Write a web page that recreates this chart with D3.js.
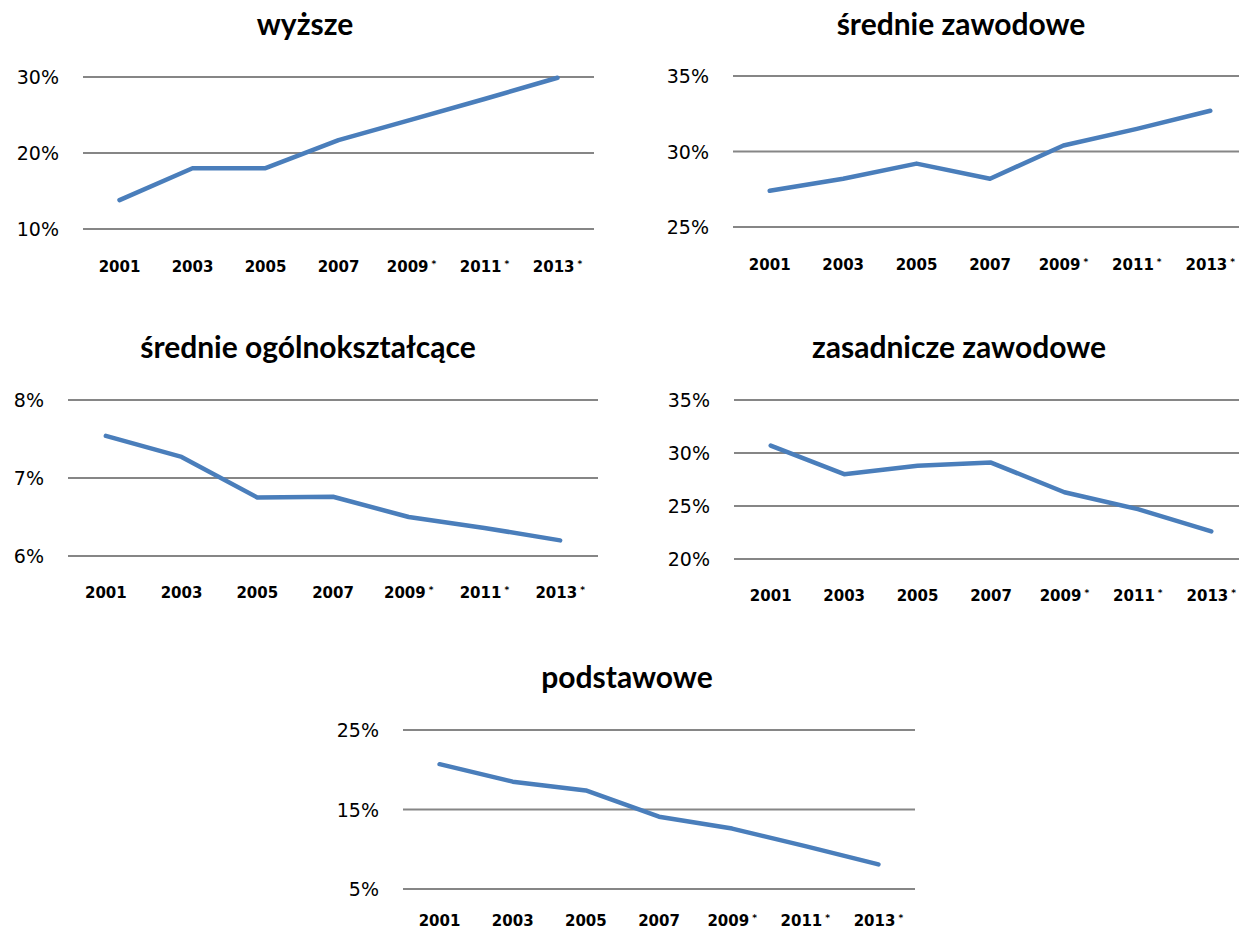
<!DOCTYPE html>
<html>
<head>
<meta charset="utf-8">
<script src="https://cdn.jsdelivr.net/npm/d3@7"></script>
<style>
  html, body { margin: 0; padding: 0; background: #fff; }
  svg { display: block; }
  .title { font-family: Lato, "Open Sans", sans-serif; font-weight: 700; font-size: 30px; fill: #000; }
  .ylab { font-family: "DejaVu Sans", sans-serif; font-size: 19px; fill: #000; }
  .xlab { font-family: "DejaVu Sans", sans-serif; font-weight: 700; font-size: 15px; fill: #000; }
</style>
</head>
<body>
<svg id="chart" width="1239" height="932"></svg>
<script>
// Years on the horizontal axis (starred years are estimates)
const years = ["2001", "2003", "2005", "2007", "2009*", "2011*", "2013*"];

// Share of each education level, in percent
const wyzsze = [13.8, 18.0, 18.0, 21.7, 24.4, 27.1, 29.9];
const srednieZawodowe = [27.4, 28.2, 29.2, 28.2, 30.4, 31.5, 32.7];
const srednieOgolnoksztalcace = [7.54, 7.27, 6.75, 6.76, 6.50, 6.36, 6.20];
const zasadniczeZawodowe = [30.7, 28.0, 28.8, 29.1, 26.3, 24.7, 22.6];
const podstawowe = [20.7, 18.5, 17.4, 14.1, 12.6, 10.4, 8.1];

// Panel titles
const titles = ["wyższe", "średnie zawodowe", "średnie ogólnokształcące", "zasadnicze zawodowe", "podstawowe"];

// Y tick values per panel (percent)
const ticksWyzsze = [10, 20, 30];
const ticksSrednieZawodowe = [25, 30, 35];
const ticksSrednieOgolno = [6, 7, 8];
const ticksZasadnicze = [20, 25, 30, 35];
const ticksPodstawowe = [5, 15, 25];

const series = [wyzsze, srednieZawodowe, srednieOgolnoksztalcace, zasadniczeZawodowe, podstawowe];
const tickSets = [ticksWyzsze, ticksSrednieZawodowe, ticksSrednieOgolno, ticksZasadnicze, ticksPodstawowe];

// Panel geometry: plot box, year-label offset and title anchor
const layout = [
  { x0: 83,  x1: 594,  yTop: 77,  yBot: 229, xlabDy: 43, titleX: 305, titleY: 35 },
  { x0: 733, x1: 1247, yTop: 76,  yBot: 227, xlabDy: 43, titleX: 961, titleY: 35 },
  { x0: 68,  x1: 598,  yTop: 400, yBot: 556, xlabDy: 42, titleX: 308, titleY: 358 },
  { x0: 734, x1: 1248, yTop: 400, yBot: 559, xlabDy: 42, titleX: 959, titleY: 358 },
  { x0: 403, x1: 915,  yTop: 730, yBot: 889, xlabDy: 37, titleX: 627, titleY: 688 }
];

const svg = d3.select("#chart");

series.forEach((values, i) => {
  const L = layout[i];
  const ticks = tickSets[i];
  const g = svg.append("g");

  const x = d3.scalePoint().domain(years).range([L.x0, L.x1]).padding(0.5);
  const y = d3.scaleLinear().domain(d3.extent(ticks)).range([L.yBot, L.yTop]);

  // horizontal gridlines
  g.selectAll("line.grid").data(ticks).join("line")
    .attr("class", "grid")
    .attr("x1", L.x0).attr("x2", L.x1)
    .attr("y1", d => y(d)).attr("y2", d => y(d))
    .attr("stroke", "#868686").attr("stroke-width", 2);

  // y tick labels
  g.selectAll("text.ylab").data(ticks).join("text")
    .attr("class", "ylab")
    .attr("x", L.x0 - 24)
    .attr("y", d => y(d) + 7)
    .attr("text-anchor", "end")
    .text(d => d + "%");

  // x tick labels, with the star set small and raised
  const xl = g.selectAll("text.xlab").data(years).join("text")
    .attr("class", "xlab")
    .attr("x", d => x(d))
    .attr("y", L.yBot + L.xlabDy)
    .attr("text-anchor", "middle");
  xl.append("tspan").text(d => d.replace("*", ""));
  xl.filter(d => d.includes("*")).append("tspan")
    .attr("dx", 3).attr("dy", -5)
    .style("font-size", "9px")
    .text("*");

  // data line
  const line = d3.line().x((d, j) => x(years[j])).y(d => y(d));
  g.append("path")
    .datum(values)
    .attr("d", line)
    .attr("fill", "none")
    .attr("stroke", "#4a7ebb")
    .attr("stroke-width", 4.5)
    .attr("stroke-linejoin", "round")
    .attr("stroke-linecap", "round");

  // title
  g.append("text")
    .attr("class", "title")
    .attr("x", L.titleX)
    .attr("y", L.titleY)
    .attr("text-anchor", "middle")
    .text(titles[i]);
});
</script>
</body>
</html>
